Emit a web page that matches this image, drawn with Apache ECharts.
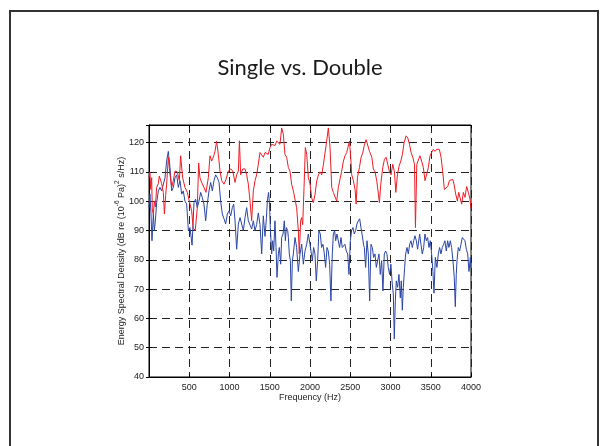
<!DOCTYPE html>
<html>
<head>
<meta charset="utf-8">
<script src="https://cdn.jsdelivr.net/npm/echarts@6/dist/echarts.min.js"></script>
<style>html,body{margin:0;padding:0;background:#fff;}#c{width:600px;height:446px;}</style>
</head>
<body>
<div id="c"></div>
<script>
const titleText = 'Single vs. Double';
const xTicks = [0, 500, 1000, 1500, 2000, 2500, 3000, 3500, 4000];
const yTicks = [40, 50, 60, 70, 80, 90, 100, 110, 120];

// Red series (frequency Hz, ESD dB)
const redFreq = [0,12,21,33,41,54,66,79,95,116,128,157,178,191,207,219,240,261,282,302,323,352,377,393,418,447,476,501,530,550,575,592,600,617,633,654,683,708,737,758,778,799,820,840,861,882,903,932,957,986,1015,1040,1056,1069,1089,1110,1123,1139,1164,1193,1213,1234,1255,1275,1296,1317,1337,1358,1379,1400,1420,1441,1462,1482,1503,1524,1544,1565,1586,1627,1648,1669,1689,1710,1731,1751,1772,1793,1834,1855,1867,1884,1896,1909,1926,1942,1959,1980,2001,2022,2042,2063,2084,2105,2125,2146,2167,2188,2207,2228,2249,2270,2290,2311,2332,2352,2373,2394,2415,2435,2456,2477,2490,2506,2518,2539,2560,2573,2589,2614,2635,2656,2673,2697,2714,2739,2768,2787,2808,2829,2850,2862,2879,2904,2925,2945,2966,2987,3007,3028,3049,3066,3086,3107,3128,3148,3169,3194,3215,3236,3256,3277,3298,3310,3327,3348,3366,3387,3408,3429,3449,3470,3491,3511,3532,3553,3573,3607,3628,3648,3669,3690,3711,3731,3752,3773,3789,3810,3831,3848,3863,3884,3905,3925,3946,3967,3988,4000];
const redVal = [108,110,104,108,97,95.5,100,98,104.7,106,108.6,106,103,95.6,102,105.8,115,109,104.7,107,110.3,110,107,115.5,108,104.7,103,100,96.7,90.5,90.2,90.3,97.8,113,108,106.4,104.7,103,108,115.5,113.7,115,117,120.5,116,110.3,107,105.8,107.5,110.3,111,110.3,110,106.4,109,110.3,120.6,109,111,111,109,105.8,100,93.3,103.5,107,109,112.6,116.6,116,115,116.6,117,116,118.3,119.4,120,119,120.5,119.4,125,122.8,116,115,111.5,110.3,105.8,103.5,97.8,90,82,93.3,94.4,92,104.7,118.3,116,108,105.8,101,99.5,102.4,107,109,110,109,112.6,113,120.5,125,118.3,104.7,103,103.5,100,104.7,107.5,110.3,113.7,115.5,116.6,116,120.5,115,109,107,104,99,108,111.5,115,116.6,118.9,121,120.5,117,115,111,110,107,102.4,99.5,105.8,111.5,114.3,115,112.6,110,109,112.6,110,103,109,112,113.7,116,120,122.3,121.6,119.4,116.6,115,112.6,91,112.6,112.6,115.5,113.7,111.5,107,107.5,111.5,115.5,116.6,117.7,117,117.7,117.7,115,110.3,104,103.5,105,107,106.4,107.5,105.8,102.4,100,103,101.3,99,103,101.3,105,103,100.7,97.3];

// Blue series (frequency Hz, ESD dB)
const blueFreq = [0,12,25,37,54,66,79,95,116,137,157,178,199,219,240,261,282,302,323,344,364,385,406,426,447,468,489,509,535,559,579,600,621,642,662,683,704,724,745,766,787,807,828,849,870,890,911,932,952,973,994,1015,1035,1052,1069,1089,1110,1131,1151,1172,1193,1213,1234,1255,1275,1296,1317,1337,1358,1379,1400,1420,1441,1458,1470,1485,1497,1507,1524,1536,1549,1565,1578,1590,1607,1619,1636,1648,1665,1681,1694,1706,1723,1731,1743,1756,1768,1781,1793,1814,1834,1855,1876,1897,1917,1938,1959,1979,2000,2008,2029,2045,2062,2078,2095,2111,2128,2144,2161,2178,2194,2211,2227,2244,2260,2277,2290,2306,2319,2335,2352,2368,2385,2401,2418,2434,2451,2468,2484,2501,2517,2534,2550,2567,2583,2600,2617,2633,2650,2666,2675,2691,2708,2724,2741,2757,2774,2790,2807,2824,2840,2857,2873,2890,2906,2923,2939,2956,2972,2989,3005,3022,3035,3047,3060,3072,3089,3105,3122,3134,3147,3159,3176,3188,3205,3221,3238,3254,3271,3288,3304,3321,3337,3362,3378,3395,3412,3428,3445,3461,3478,3494,3511,3527,3540,3557,3577,3594,3610,3627,3643,3660,3676,3693,3710,3726,3743,3759,3776,3792,3805,3817,3826,3842,3859,3876,3892,3909,3925,3942,3959,3975,3992,4000];
const blueVal = [97.8,102.4,95.6,86.5,95.6,90,93.3,99.5,103.5,104.7,103.5,103,108,113.7,117,111.5,103.5,104.7,108,109,104.7,107,102.4,103.5,100,99,90,91,85,99.5,100.7,97.8,100,103,101.3,99,93.3,99,103.5,106.4,103.5,107,109,108,106.4,100,95.6,94,92.2,95.6,96.7,95,97.8,99,93.3,83.6,92.2,94.4,92.2,90,94.4,97.8,93.3,93.3,90.5,93.3,90,92,96,92,82,95,88,94,100,103,99,91,82,86.5,83,93.3,84.2,74,82,84.2,78.5,87.6,88.8,93.3,86.5,91,90,87.6,82,79.7,66,79.7,82,87.6,84.2,76,82,85.3,78.5,83,85.3,88.8,85.3,85.3,79.7,84.2,82,72.8,79.7,90,88.8,84.2,85.3,82,77.4,84.2,83,78.5,66,82,88.8,90,86.5,88.8,88.2,84.2,87.6,84.2,83.6,85.3,83,82,75,86.5,90,91,88.8,90,92.2,93.3,94,91,88.2,85,84.2,77.4,86.5,82,66,85.3,84.2,80.8,82,77.4,79.7,82,75,79.7,69.4,82,83,82,77.4,75,78.5,71.7,68.3,53,66,72.8,70.6,75,67,72.8,62.8,70.6,77.4,82,84.2,82,85.3,86.5,84.2,86.5,88.2,86.5,83.6,88.8,85.3,82,84.2,88.8,86.5,87.6,84.2,86.5,82,76,68.6,80.8,77.4,82,84.2,82,84.2,85.3,86.5,83,86.5,84.2,86.5,84.2,79.7,74,64,75,79.7,84.2,83,85.3,87.6,88.2,86.5,83.6,82,76,80.8,77];

const toPairs = (f, v) => f.map((x, i) => [x, v[i]]);

const chart = echarts.init(document.getElementById('c'), null, {renderer: 'canvas'});
const labelFont = {fontFamily: 'Liberation Sans, Arial, sans-serif', fontSize: 9, color: '#222'};
const gridLine = {show: true, lineStyle: {color: '#222', width: 1, type: [8, 5]}};

chart.setOption({
  animation: false,
  backgroundColor: '#fff',
  title: {
    text: titleText, left: 'center', top: 52,
    textStyle: {fontFamily: 'Lato, Open Sans, sans-serif', fontSize: 22, fontWeight: 'normal', color: '#1a1a1a'}
  },
  graphic: [{
    type: 'rect', silent: true, z: 100,
    shape: {x: 10, y: 11, width: 588, height: 480},
    style: {fill: 'none', stroke: '#333', lineWidth: 2}
  }],
  grid: {left: 149, top: 125, width: 322, height: 252, show: true, borderColor: '#000', borderWidth: 1, backgroundColor: 'transparent'},
  xAxis: [{
    type: 'value', min: xTicks[0], max: xTicks[xTicks.length - 1], interval: 500,
    name: 'Frequency (Hz)', nameLocation: 'middle', nameGap: 16, nameMoveOverlap: false,
    nameTextStyle: labelFont,
    axisLine: {show: true, onZero: false, lineStyle: {color: '#000'}},
    axisTick: {show: true, inside: true, length: 3, lineStyle: {color: '#000'}},
    axisLabel: Object.assign({margin: 6, formatter: v => (xTicks.indexOf(v) > 0 ? String(v) : '')}, labelFont),
    splitLine: gridLine
  }, {
    type: 'value', position: 'top', min: 0, max: 4000, interval: 500,
    axisLine: {show: true, lineStyle: {color: '#000'}},
    axisTick: {show: true, inside: true, length: 3, lineStyle: {color: '#000'}},
    axisLabel: {show: false}, splitLine: {show: false}
  }],
  yAxis: [{
    type: 'value', min: 40, max: 126, interval: 10,
    name: '{a|Energy Spectral Density (dB re (10}{s|-6}{a| Pa)}{s|2}{a| s/Hz)}',
    nameLocation: 'middle', nameGap: 23, nameRotate: 90, nameMoveOverlap: false,
    nameTextStyle: {
      rich: {
        a: {fontFamily: 'Liberation Sans, Arial, sans-serif', fontSize: 9, color: '#222', verticalAlign: 'bottom', lineHeight: 12},
        s: {fontFamily: 'Liberation Sans, Arial, sans-serif', fontSize: 6.5, color: '#222', verticalAlign: 'top', lineHeight: 12}
      }
    },
    axisLine: {show: true, onZero: false, lineStyle: {color: '#000'}},
    axisTick: {show: true, inside: true, length: 3, lineStyle: {color: '#000'}},
    axisLabel: Object.assign({margin: 5, formatter: v => (yTicks.indexOf(v) >= 0 ? String(v) : '')}, labelFont),
    splitLine: gridLine
  }, {
    type: 'value', position: 'right', min: 40, max: 126, interval: 10,
    axisLine: {show: true, lineStyle: {color: '#000'}},
    axisTick: {show: true, inside: true, length: 3, lineStyle: {color: '#000'}},
    axisLabel: {show: false}, splitLine: {show: false}
  }],
  series: [{
    name: 'Double', type: 'line', data: toPairs(blueFreq, blueVal),
    showSymbol: false, symbol: 'none', lineStyle: {color: '#2a45a5', width: 1}, z: 2
  }, {
    name: 'Single', type: 'line', data: toPairs(redFreq, redVal),
    showSymbol: false, symbol: 'none', lineStyle: {color: '#ee1c25', width: 1}, z: 3
  }]
});
</script>
</body>
</html>
